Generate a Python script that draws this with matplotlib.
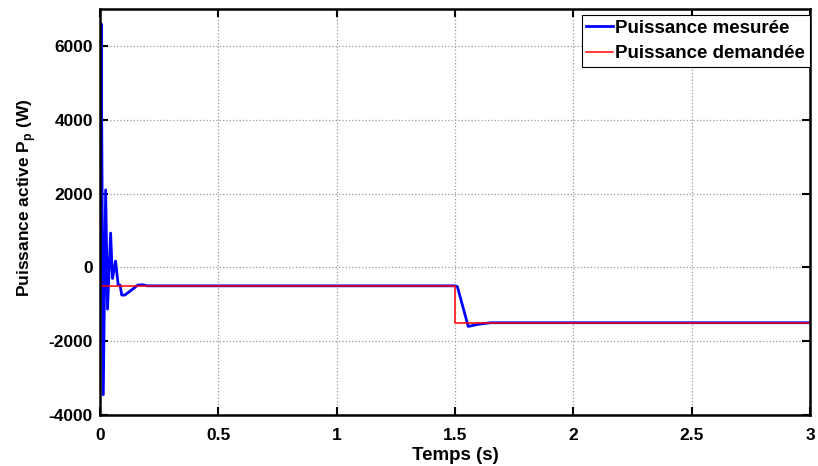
import matplotlib
matplotlib.use('Agg')
import matplotlib.pyplot as plt

plt.rcParams['font.family'] = ['Liberation Sans', 'DejaVu Sans']
plt.rcParams['font.weight'] = 'bold'
plt.rcParams['axes.unicode_minus'] = False
plt.rcParams['mathtext.fontset'] = 'custom'
plt.rcParams['mathtext.bf'] = 'Liberation Sans:bold'
plt.rcParams['mathtext.rm'] = 'Liberation Sans:bold'

t_mes = [0, 0.005, 0.014, 0.024, 0.032, 0.045, 0.053, 0.066, 0.077, 0.085,
         0.092, 0.105, 0.12, 0.16, 0.18, 0.2, 1.5, 1.51, 1.556, 1.6, 1.65, 3.0]
p_mes = [0, 6600, -3450, 2100, -1130, 930, -300, 170, -480, -480,
         -750, -750, -680, -480, -470, -500, -500, -520, -1600, -1540, -1500, -1500]

# requested power
t_dem = [0, 1.5, 1.5, 3.0]
p_dem = [-500, -500, -1500, -1500]

fig = plt.figure(figsize=(8.18, 4.66), dpi=100)
ax = fig.add_axes([0.1222, 0.1094, 0.8680, 0.8713])

ax.plot(t_mes, p_mes, color='#0000ff', lw=2, label='Puissance mesurée')
ax.plot(t_dem, p_dem, color='#ff0000', lw=1.1, label='Puissance demandée')

ax.set_xlim(0, 3)
ax.set_ylim(-4000, 7000)
ax.set_xticks([0, 0.5, 1, 1.5, 2, 2.5, 3])
ax.set_xticklabels(['0', '0.5', '1', '1.5', '2', '2.5', '3'])
ax.set_yticks([-4000, -2000, 0, 2000, 4000, 6000])

ax.grid(True, linestyle=':', color='#999999', lw=0.9)
ax.tick_params(direction='in', top=True, right=True, labelsize=12.5, length=6, width=1.5)
ax.tick_params(axis='x', pad=9)
ax.tick_params(axis='y', pad=5)
for s in ax.spines.values():
    s.set_linewidth(1.8)

ax.set_xlabel('Temps (s)', fontsize=13.5, fontweight='bold', labelpad=3)
ax.set_ylabel(r'Puissance active P$_\mathbf{p}$ (W)', fontsize=12.5, fontweight='bold')
ax.yaxis.set_label_coords(-0.087, 0.535)

leg = ax.legend(loc='upper right', bbox_to_anchor=(1.0, 0.985), fontsize=13.5,
                fancybox=False, edgecolor='black', framealpha=1, borderaxespad=0,
                handlelength=1.4, handletextpad=0.15, borderpad=0.25, labelspacing=0.45)
leg.get_frame().set_linewidth(0.8)
for txt in leg.get_texts():
    txt.set_fontweight('bold')

fig.savefig('out.png', dpi=100)
